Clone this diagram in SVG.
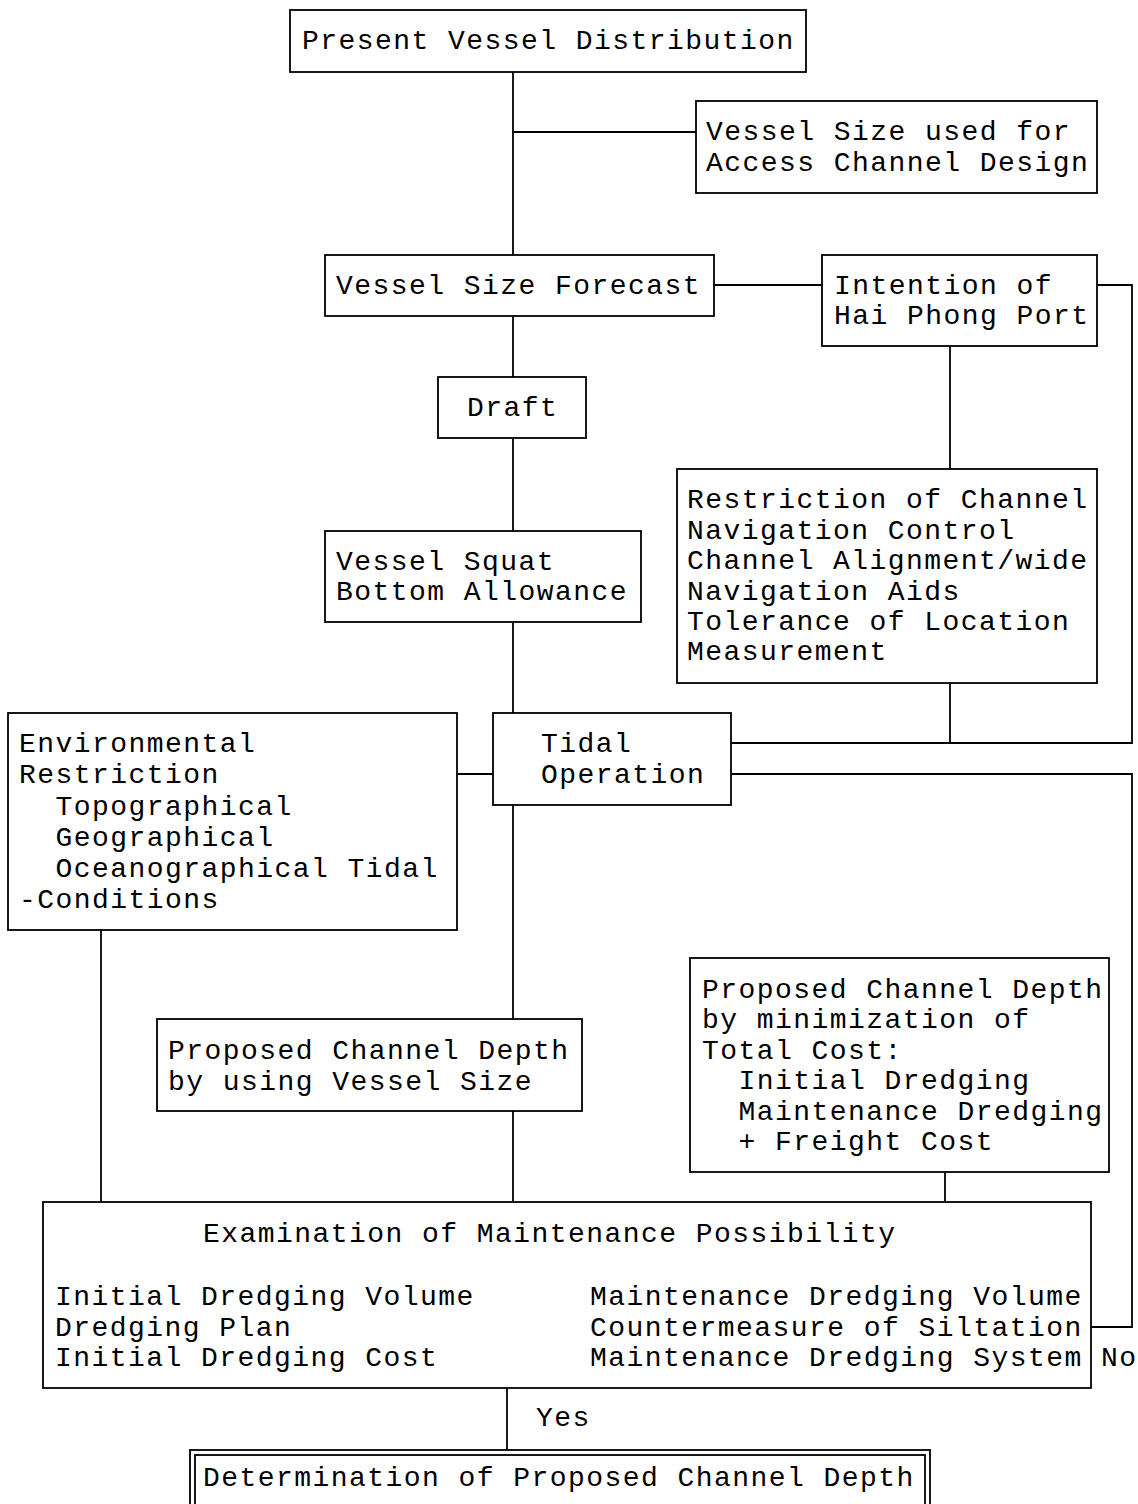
<svg xmlns="http://www.w3.org/2000/svg" width="1138" height="1504" viewBox="0 0 1138 1504">
<style>
rect{fill:#fff;stroke:#000;stroke-width:1.8}
.c line,.c polyline{stroke:#000;stroke-width:1.8;fill:none}
text{font-family:"Liberation Mono","Courier New",monospace;font-size:28px;letter-spacing:1.45px;fill:#000}
</style>
<rect x="0" y="0" width="1138" height="1504" style="stroke:none"/>
<g class="c" id="connectors">
<line x1="513" y1="72" x2="513" y2="255"/>
<line x1="513" y1="132" x2="696" y2="132"/>
<line x1="714" y1="285" x2="822" y2="285"/>
<line x1="513" y1="316" x2="513" y2="377"/>
<line x1="513" y1="438" x2="513" y2="531"/>
<line x1="513" y1="622" x2="513" y2="713"/>
<line x1="950" y1="346" x2="950" y2="469"/>
<line x1="950" y1="683" x2="950" y2="743"/>
<polyline points="1097,285 1132,285 1132,743 731,743"/>
<polyline points="731,774 1132,774 1132,1327 1091,1327"/>
<line x1="457" y1="774" x2="493" y2="774"/>
<line x1="101" y1="930" x2="101" y2="1202"/>
<line x1="513" y1="805" x2="513" y2="1019"/>
<line x1="513" y1="1111" x2="513" y2="1202"/>
<line x1="945" y1="1172" x2="945" y2="1202"/>
<line x1="507" y1="1388" x2="507" y2="1450"/>
</g>
<g id="present"><rect x="290" y="10" width="516" height="62"/><text x="302" y="49">Present Vessel Distribution</text></g>
<g id="vessel-size-used"><rect x="696" y="101" width="401" height="92"/><text x="706" y="140">Vessel Size used for</text><text x="706" y="171">Access Channel Design</text></g>
<g id="forecast"><rect x="325" y="255" width="389" height="61"/><text x="336" y="294">Vessel Size Forecast</text></g>
<g id="intention"><rect x="822" y="255" width="275" height="91"/><text x="834" y="294">Intention of</text><text x="834" y="324">Hai Phong Port</text></g>
<g id="draft"><rect x="438" y="377" width="148" height="61"/><text x="467" y="416">Draft</text></g>
<g id="squat"><rect x="325" y="531" width="316" height="91"/><text x="336" y="570">Vessel Squat</text><text x="336" y="600">Bottom Allowance</text></g>
<g id="restriction"><rect x="677" y="469" width="420" height="214"/>
<text x="687" y="508">Restriction of Channel</text>
<text x="687" y="539">Navigation Control</text>
<text x="687" y="569">Channel Alignment/wide</text>
<text x="687" y="600">Navigation Aids</text>
<text x="687" y="630">Tolerance of Location</text>
<text x="687" y="660">Measurement</text></g>
<g id="environmental"><rect x="8" y="713" width="449" height="217"/>
<text x="19" y="752">Environmental</text>
<text x="19" y="783">Restriction</text>
<text x="19" y="815" xml:space="preserve">  Topographical</text>
<text x="19" y="846" xml:space="preserve">  Geographical</text>
<text x="19" y="877" xml:space="preserve">  Oceanographical Tidal</text>
<text x="19" y="908">-Conditions</text></g>
<g id="tidal"><rect x="493" y="713" width="238" height="92"/><text x="541" y="752">Tidal</text><text x="541" y="783">Operation</text></g>
<g id="depth-vessel"><rect x="157" y="1019" width="425" height="92"/><text x="168" y="1059">Proposed Channel Depth</text><text x="168" y="1090">by using Vessel Size</text></g>
<g id="depth-min"><rect x="690" y="958" width="419" height="214"/>
<text x="702" y="998">Proposed Channel Depth</text>
<text x="702" y="1028">by minimization of</text>
<text x="702" y="1059">Total Cost:</text>
<text x="702" y="1089" xml:space="preserve">  Initial Dredging</text>
<text x="702" y="1120" xml:space="preserve">  Maintenance Dredging</text>
<text x="702" y="1150" xml:space="preserve">  + Freight Cost</text></g>
<g id="examination"><rect x="43" y="1202" width="1048" height="186"/>
<text x="203" y="1242">Examination of Maintenance Possibility</text>
<text x="55" y="1305">Initial Dredging Volume</text>
<text x="55" y="1336">Dredging Plan</text>
<text x="55" y="1366">Initial Dredging Cost</text>
<text x="590" y="1305">Maintenance Dredging Volume</text>
<text x="590" y="1336">Countermeasure of Siltation</text>
<text x="590" y="1366">Maintenance Dredging System</text></g>
<text x="1101" y="1366">No</text>
<text x="536" y="1426">Yes</text>
<g id="determination"><rect x="190" y="1450" width="740" height="70"/><rect x="195" y="1455" width="730" height="70"/><text x="203" y="1486">Determination of Proposed Channel Depth</text></g>
</svg>
